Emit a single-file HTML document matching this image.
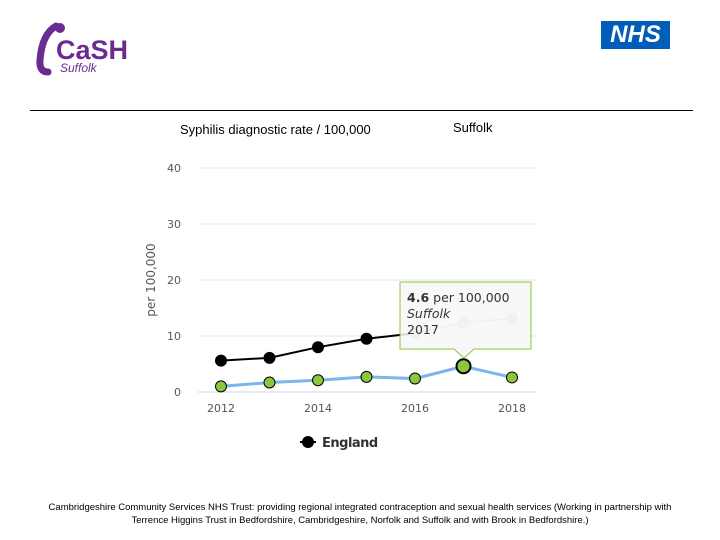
<!DOCTYPE html>
<html><head><meta charset="utf-8"><style>
body{margin:0;width:720px;height:540px;background:#fff;font-family:"Liberation Sans",sans-serif;position:relative;overflow:hidden}
.abs{position:absolute}
</style></head><body>
<div class="abs" style="left:34px;top:20px;width:110px;height:60px">
<svg width="110" height="60"><path d="M22 6 Q8 14 6 40 Q5 52 14 52" stroke="#6a2c91" stroke-width="7" fill="none" stroke-linecap="round"/><circle cx="26" cy="8" r="5" fill="#6a2c91"/>
<text x="22" y="39" font-family="Liberation Sans" font-weight="bold" font-size="27" fill="#6a2c91">CaSH</text>
<text x="26" y="52" font-family="Liberation Sans" font-style="italic" font-size="12" fill="#6a2c91">Suffolk</text></svg></div>
<div class="abs" style="left:601px;top:21px;width:69px;height:28px;background:#005eb8;color:#fff;font-weight:bold;font-style:italic;font-size:24px;line-height:28px;text-align:center">NHS</div>
<div class="abs" style="left:30px;top:110px;width:663px;height:1px;background:#000"></div>
<div class="abs" style="left:180px;top:122px;font-size:13px">Syphilis diagnostic rate / 100,000</div>
<div class="abs" style="left:453px;top:120px;font-size:13px">Suffolk</div>
<svg class="abs" style="left:0;top:0" width="720" height="540" id="chart"></svg>
<div class="abs" style="left:36px;top:501px;width:648px;text-align:center;font-size:9.5px;line-height:13px">Cambridgeshire Community Services NHS Trust: providing regional integrated contraception and sexual health services (Working in partnership with Terrence Higgins Trust in Bedfordshire, Cambridgeshire, Norfolk and Suffolk and with Brook in Bedfordshire.)</div>
<script>
const years=[2012,2013,2014,2015,2016,2017,2018];
const england=[5.6,6.1,8.0,9.5,10.5,12.4,13.1];
const suffolk=[1.0,1.7,2.1,2.7,2.4,4.6,2.6];
const yTicks=[0,10,20,30,40];
const xTicks=[2012,2014,2016,2018];
const svg=document.getElementById('chart');const NS='http://www.w3.org/2000/svg';
const X=v=>221+(v-2012)*48.5, Y=v=>392-v*5.6;
function mk(t,a,txt){const e=document.createElementNS(NS,t);for(const k in a)e.setAttribute(k,a[k]);if(txt!==undefined)e.textContent=txt;svg.appendChild(e);return e;}
yTicks.forEach(t=>{const g=mk('line',{x1:198,x2:537,y1:Y(t),y2:Y(t),stroke:t?'#e6e6e6':'#ccd6eb','stroke-width':1});

const l=mk('text',{x:181,y:Y(t)+4,'text-anchor':'end','font-size':11,fill:'#555','font-family':'DejaVu Sans'},t);
});
xTicks.forEach(t=>{const l=mk('text',{x:X(t),y:412,'text-anchor':'middle','font-size':11,fill:'#555','font-family':'DejaVu Sans'},t);
});
const yt=mk('text',{x:155,y:280,transform:'rotate(-90 155 280)','text-anchor':'middle','font-size':12,fill:'#555','font-family':'DejaVu Sans'},'per 100,000');

const path=(arr,i0,i1)=>arr.slice(i0,i1).map((v,i)=>(i?'L':'M')+X(years[i0+i])+' '+Y(v)).join(' ');
let p=mk('path',{d:path(england,0,5),stroke:'#000','stroke-width':2,fill:'none'});
p=mk('path',{d:path(england,4,7),stroke:'#ccc','stroke-width':2,fill:'none'});
england.forEach((v,i)=>{const c=mk('circle',{cx:X(years[i]),cy:Y(v),r:6,fill:i>=4?'#d0d0d0':'#000'});});
p=mk('path',{d:path(suffolk,0,7),stroke:'#7cb5ec','stroke-width':3,fill:'none'});
suffolk.forEach((v,i)=>{const c=mk('circle',{cx:X(years[i]),cy:Y(v),r:i==5?7:5.5,fill:'#8cc63f',stroke:'#000','stroke-width':i==5?2:1});});
const tx=400,ty=282;
const tb=mk('path',{d:`M${tx} ${ty} h131 v67 h-57 l-10 9 l-10 -9 h-54 z`,fill:'rgba(247,247,247,0.85)',stroke:'#8cc63f','stroke-width':1});

let t=mk('text',{x:407,y:302,'font-size':12.5,fill:'#333','font-family':'DejaVu Sans'});t.innerHTML='<tspan font-weight="bold">'+suffolk[5]+'</tspan> per 100,000';
t=mk('text',{x:407,y:318,'font-size':12.5,'font-style':'italic',fill:'#333','font-family':'DejaVu Sans'},'Suffolk');
t=mk('text',{x:407,y:334,'font-size':12.5,fill:'#333','font-family':'DejaVu Sans'},years[5]);
const lg=mk('line',{x1:300,x2:316,y1:442,y2:442,stroke:'#000','stroke-width':2});
const lc=mk('circle',{cx:308,cy:442,r:6,fill:'#000'});
t=mk('text',{x:322,y:447,'font-size':13,'font-weight':'bold',fill:'#333','font-family':'DejaVu Sans','letter-spacing':'-0.5'},'England');
</script>
</body></html>
